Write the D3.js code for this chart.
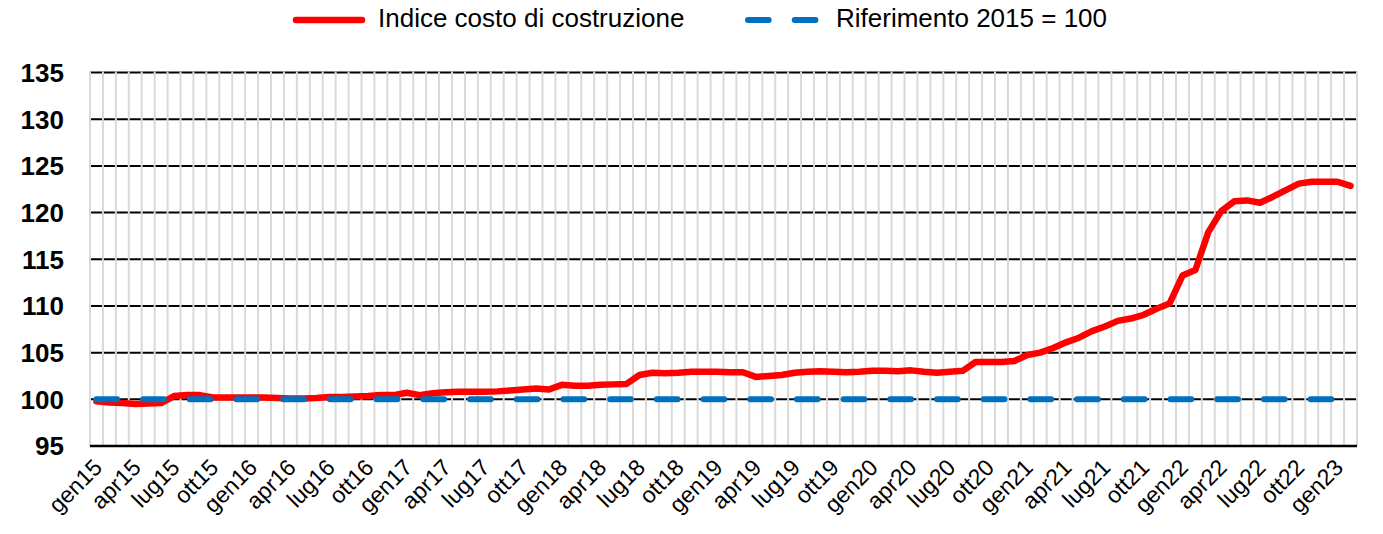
<!DOCTYPE html>
<html>
<head>
<meta charset="utf-8">
<script src="https://cdn.jsdelivr.net/npm/d3@7"></script>
<style>
  body { margin: 0; background: #fff; }
  svg { display: block; font-family: "Liberation Sans", Arial, sans-serif; }
</style>
</head>
<body>
<svg id="chart"></svg>
<script>
// month names and years used for the category axis
const mesi = ["gen", "feb", "mar", "apr", "mag", "giu", "lug", "ago", "set", "ott", "nov", "dic"];
const anni = ["15", "16", "17", "18", "19", "20", "21", "22", "23"];

// Indice costo di costruzione, gen15 - feb23
const indice = [
  99.8, 99.65, 99.6, 99.5, 99.55, 99.6, 100.35, 100.45, 100.45, 100.2, 100.2, 100.2,
  100.2, 100.2, 100.15, 100.1, 100.1, 100.15, 100.25, 100.25, 100.3, 100.35, 100.45, 100.45,
  100.7, 100.45, 100.65, 100.75, 100.8, 100.8, 100.8, 100.85, 100.95, 101.05, 101.15, 101.05,
  101.55, 101.45, 101.45, 101.55, 101.6, 101.65, 102.6, 102.85, 102.8, 102.85, 102.95, 102.95,
  102.95, 102.9, 102.9, 102.4, 102.5, 102.6, 102.85, 102.95, 103.0, 102.95, 102.9, 102.95,
  103.05, 103.05, 103.0, 103.1, 102.95, 102.85, 102.95, 103.05, 104.0, 104.0, 104.0, 104.1,
  104.75, 105.0, 105.5, 106.1, 106.6, 107.3, 107.8, 108.4, 108.65, 109.05, 109.7, 110.25,
  113.25, 113.85, 117.9, 120.15, 121.2, 121.3, 121.05, 121.7, 122.4, 123.1, 123.3, 123.3,
  123.3, 122.85
];
const riferimento = 100;

const yTicks = [95, 100, 105, 110, 115, 120, 125, 130, 135];
const seriesNames = ["Indice costo di costruzione", "Riferimento 2015 = 100"];

// category labels gen15 ... feb23
const categorie = [];
anni.forEach(a => mesi.forEach(m => categorie.push(m + a)));
categorie.length = indice.length;

const width = 1383, height = 534;
const margin = {left: 90, right: 26, top: 72.5, bottom: 88};

const svg = d3.select("#chart")
  .attr("width", width)
  .attr("height", height);

const x = d3.scaleBand()
  .domain(categorie)
  .range([margin.left, width - margin.right])
  .padding(0);

const y = d3.scaleLinear()
  .domain([95, 135])
  .range([height - margin.bottom, margin.top]);

const bw = x.bandwidth();
const cx = d => x(d) + bw / 2;

// horizontal gridlines (black)
svg.append("g")
  .selectAll("line")
  .data(yTicks)
  .join("line")
  .attr("x1", margin.left).attr("x2", width - margin.right)
  .attr("y1", d => y(d)).attr("y2", d => y(d))
  .attr("stroke", "#000")
  .attr("stroke-width", 2);

// vertical gridlines at category boundaries (light grey, over the black ones)
const edges = categorie.map(d => x(d)).concat([x(categorie[categorie.length - 1]) + bw]);
svg.append("g")
  .selectAll("line")
  .data(edges)
  .join("line")
  .attr("x1", d => d).attr("x2", d => d)
  .attr("y1", y(135) - 1).attr("y2", y(95))
  .attr("stroke", "#d9d9d9")
  .attr("stroke-width", 2);

// bottom axis line
svg.append("line")
  .attr("x1", margin.left).attr("x2", width - margin.right)
  .attr("y1", y(95)).attr("y2", y(95))
  .attr("stroke", "#000")
  .attr("stroke-width", 2.5);

// y labels
svg.append("g")
  .selectAll("text")
  .data(yTicks)
  .join("text")
  .attr("x", 64)
  .attr("y", d => y(d))
  .attr("dy", "0.36em")
  .attr("text-anchor", "end")
  .attr("font-size", 26)
  .attr("font-weight", "bold")
  .attr("fill", "#000")
  .text(d => d);

// x labels, one every three months, rotated
svg.append("g")
  .selectAll("text")
  .data(categorie.filter((d, i) => i % 3 === 0))
  .join("text")
  .attr("transform", d => `translate(${cx(d) + 7},${y(95) + 23}) rotate(-45)`)
  .attr("text-anchor", "end")
  .attr("font-size", 23)
  .attr("fill", "#000")
  .text(d => d);

// red index line
const line = d3.line()
  .x((d, i) => cx(categorie[i]))
  .y(d => y(d));

svg.append("path")
  .datum(indice)
  .attr("d", line)
  .attr("fill", "none")
  .attr("stroke", "#ff0000")
  .attr("stroke-width", 6.5)
  .attr("stroke-linejoin", "round")
  .attr("stroke-linecap", "round");

// blue dashed reference line
svg.append("line")
  .attr("x1", cx(categorie[0]))
  .attr("x2", cx(categorie[categorie.length - 1]))
  .attr("y1", y(riferimento)).attr("y2", y(riferimento))
  .attr("stroke", "#0070c0")
  .attr("stroke-width", 6)
  .attr("stroke-linecap", "round")
  .attr("stroke-dasharray", "20.7,26");

// legend
const legend = svg.append("g");
legend.append("line")
  .attr("x1", 296).attr("x2", 362)
  .attr("y1", 20).attr("y2", 20)
  .attr("stroke", "#ff0000")
  .attr("stroke-width", 6.5)
  .attr("stroke-linecap", "round");
legend.append("text")
  .attr("x", 378).attr("y", 27)
  .attr("font-size", 26)
  .text(seriesNames[0]);

legend.append("line")
  .attr("x1", 748).attr("x2", 818)
  .attr("y1", 20).attr("y2", 20)
  .attr("stroke", "#0070c0")
  .attr("stroke-width", 6)
  .attr("stroke-linecap", "round")
  .attr("stroke-dasharray", "20.7,26");
legend.append("text")
  .attr("x", 836).attr("y", 27)
  .attr("font-size", 26)
  .text(seriesNames[1]);
</script>
</body>
</html>
